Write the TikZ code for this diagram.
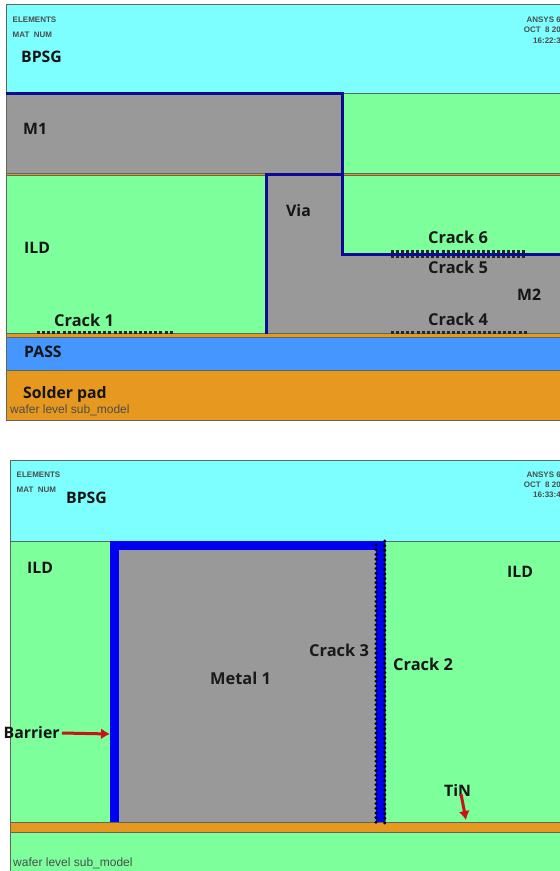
\documentclass[tikz,border=0pt]{standalone}
\usepackage{fontspec}
\setmainfont{Open Sans}
\newfontfamily\smallfont{Liberation Sans}
\newfontfamily\subfont{Liberation Sans}
\usetikzlibrary{arrows.meta}
\definecolor{bpsg}{HTML}{7DFFFF}
\definecolor{ild}{HTML}{7DFF9C}
\definecolor{metal}{HTML}{999999}
\definecolor{tin}{HTML}{E6991E}
\definecolor{pass}{HTML}{4696FF}
\definecolor{navyb}{HTML}{0A0A96}
\definecolor{barrier}{HTML}{0000F0}
\definecolor{edgec}{HTML}{5A6A5A}
\definecolor{redarrow}{HTML}{C81414}
\tikzset{
 region/.style={draw=edgec,line width=0.9pt},
 lbl/.style={inner sep=0pt,font=\bfseries\fontsize{15.8}{18}\selectfont,text=black!92,anchor=base west},
 cracklbl/.style={inner sep=0pt,font=\bfseries\fontsize{16.4}{18}\selectfont,text=black!90,anchor=base west},
 tiny/.style={inner sep=0pt,font=\smallfont\bfseries\fontsize{8}{9}\selectfont,text=black!70,anchor=base west},
 tinyr/.style={inner sep=0pt,font=\smallfont\bfseries\fontsize{8}{9}\selectfont,text=black!70,anchor=base east},
 sub/.style={inner sep=0pt,font=\subfont\fontsize{12}{13}\selectfont,text=black!70,anchor=base west},
 interface/.style={draw=navyb,line width=3pt},
 crackthin/.style={draw=black!85,line width=3pt,dash pattern=on 3pt off 2.1pt},
 crackv/.style={draw=black,line width=3.3pt,line cap=round,dash pattern=on 0pt off 4.7pt},
 redtip/.style={draw=redarrow,line width=3pt,-{Latex[length=9pt,width=11pt]}}
}
\begin{document}
\begin{tikzpicture}[x=1pt,y=-1pt]
\useasboundingbox (0,0) rectangle (560,871);
\fill[white] (0,0) rectangle (560,871);
% top panel
\filldraw[region,fill=bpsg] (6,4.5) rectangle (561,93);
\filldraw[region,fill=ild] (342,93) rectangle (561,173);
\filldraw[region,fill=metal] (6,93) rectangle (342,173);
\filldraw[region,fill=ild] (6,175) rectangle (266,334);
\filldraw[region,fill=ild] (342,175) rectangle (561,254);
\fill[metal] (266,175) -- (342,175) -- (342,254) -- (561,254) -- (561,334) -- (266,334) -- cycle;
\filldraw[region,fill=tin] (6,173) rectangle (266,175.5);
\filldraw[region,fill=tin] (342,173) rectangle (561,175.5);
\filldraw[region,fill=tin] (6,333.5) rectangle (561,337);
\filldraw[region,fill=pass] (6,337) rectangle (561,370.5);
\filldraw[region,fill=tin] (6,370.5) rectangle (561,420);
\draw[interface] (6,93.8) -- (342,93.8) -- (342,254) -- (561,254);
\draw[interface] (342,174) -- (266,174) -- (266,333.5);
% cracks
\coordinate (c1a) at (37,332); \coordinate (c1b) at (172.5,332);
\coordinate (c4a) at (391,332); \coordinate (c4b) at (527,332);
\coordinate (c6a) at (391,253.8); \coordinate (c6b) at (527,253.8);
\draw[crackthin] (c1a) -- (c1b);
\draw[crackthin] (c4a) -- (c4b);
\draw[draw=black!85,line width=8.5pt,dash pattern=on 3pt off 2.05pt] (c6a) -- (c6b);
\draw[interface] (391,254) -- (527,254);
% top texts
\node[tiny] (el1) at (12.5,22) {ELEMENTS};
\node[tiny] (mn1) at (12.5,37) {MAT\ \ NUM};
\node[tinyr] (an1) at (561,22) {ANSYS 6};
\node[tinyr] (oc1) at (561,32) {OCT\ \ 8 20};
\node[tinyr] (ti1) at (561,43) {16:22:3};
\node[lbl] (bp1) at (21,62) {BPSG};
\node[lbl] (m1) at (23,134) {M1};
\node[lbl] (il1) at (24,253) {ILD};
\node[lbl] (vi) at (286,216) {Via};
\node[cracklbl] (c1) at (54,326) {Crack 1};
\node[cracklbl] (c6) at (428,243) {Crack 6};
\node[cracklbl] (c5) at (428,273) {Crack 5};
\node[cracklbl] (c4) at (428,325) {Crack 4};
\node[lbl] (m2) at (517,300) {M2};
\node[lbl] (pa) at (24,357) {PASS};
\node[lbl] (so) at (23,398) {Solder pad};
\node[sub] (w1) at (10,413) {wafer level sub\_model};
% bottom panel
\filldraw[region,fill=bpsg] (10.5,460) rectangle (561,541);
\filldraw[region,fill=ild] (10.5,541) rectangle (110,822);
\filldraw[region,fill=ild] (385,541) rectangle (561,822);
\filldraw[draw=none,fill=barrier] (110,541) rectangle (385,822);
\fill[metal] (118.5,550) rectangle (376,822);
\filldraw[region,fill=ild] (10.5,832) rectangle (561,872);
\filldraw[region,fill=tin] (10.5,822) rectangle (561,832);
\coordinate (c3a) at (376,545); \coordinate (c3b) at (376,823);
\coordinate (c2a) at (384.8,541); \coordinate (c2b) at (384.8,823);
\draw[crackv] (c3a) -- (c3b);
\draw[crackv] (c2a) -- (c2b);
% bottom texts
\node[tiny] (el2) at (16.5,477) {ELEMENTS};
\node[tiny] (mn2) at (16.5,492) {MAT\ \ NUM};
\node[tinyr] (an2) at (561,477) {ANSYS 6};
\node[tinyr] (oc2) at (561,487) {OCT\ \ 8 20};
\node[tinyr] (ti2) at (561,497) {16:33:4};
\node[lbl] (bp2) at (66,503) {BPSG};
\node[lbl] (il2) at (27,573) {ILD};
\node[lbl] (il3) at (507,577) {ILD};
\node[cracklbl] (c3) at (309,656) {Crack 3};
\node[cracklbl] (c2) at (393,670) {Crack 2};
\node[cracklbl] (me) at (210,684) {Metal 1};
\node[lbl] (ba) at (3.5,738) {Barrier};
\node[lbl] (tn) at (444,796) {TiN};
\node[sub] (w2) at (13,866) {wafer level sub\_model};
\coordinate (ba0) at (62,733); \coordinate (ba1) at (110,734);
\coordinate (tn0) at (461,794); \coordinate (tn1) at (466,820);
\draw[redtip] (ba0) -- (ba1);
\draw[redtip] (tn0) -- (tn1);
\end{tikzpicture}
\end{document}
